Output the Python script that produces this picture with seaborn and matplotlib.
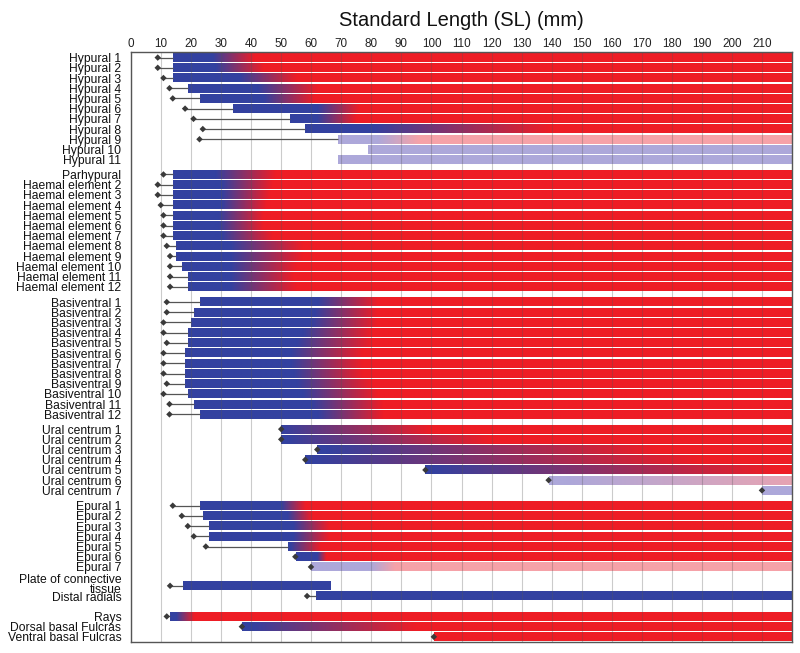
import numpy as np
import pandas as pd
import matplotlib.pyplot as plt
import matplotlib.transforms as mtransforms
import seaborn as sns
from matplotlib.colors import to_rgb

# ============================================================================
# DATA - caudal skeleton development (mm SL)
# ============================================================================

hypural_labels = ["Hypural 1", "Hypural 2", "Hypural 3", "Hypural 4", "Hypural 5",
                  "Hypural 6", "Hypural 7", "Hypural 8", "Hypural 9", "Hypural 10",
                  "Hypural 11"]
haemal_labels = ["Parhypural", "Haemal element 2", "Haemal element 3",
                 "Haemal element 4", "Haemal element 5", "Haemal element 6",
                 "Haemal element 7", "Haemal element 8", "Haemal element 9",
                 "Haemal element 10", "Haemal element 11", "Haemal element 12"]
basiventral_labels = ["Basiventral 1", "Basiventral 2", "Basiventral 3", "Basiventral 4",
                      "Basiventral 5", "Basiventral 6", "Basiventral 7", "Basiventral 8",
                      "Basiventral 9", "Basiventral 10", "Basiventral 11", "Basiventral 12"]
ural_labels = ["Ural centrum 1", "Ural centrum 2", "Ural centrum 3", "Ural centrum 4",
               "Ural centrum 5", "Ural centrum 6", "Ural centrum 7"]
epural_labels = ["Epural 1", "Epural 2", "Epural 3", "Epural 4", "Epural 5",
                 "Epural 6", "Epural 7"]
other_labels = ["Plate of connective\ntissue", "Distal radials"]
fin_labels = ["Rays", "Dorsal basal Fulcras", "Ventral basal Fulcras"]

groups = [hypural_labels, haemal_labels, basiventral_labels, ural_labels,
          epural_labels, other_labels, fin_labels]

nan = np.nan

# first record of the element (diamond marker)
first_seen = [8.9, 8.9, 10.8, 12.8, 13.9, 18.0, 20.8, 23.9, 22.8, nan, nan,
              10.8, 8.9, 8.9, 9.9, 10.8, 10.8, 10.8, 11.9, 13.0, 13.0, 13.0, 13.0,
              11.9, 11.9, 10.8, 10.8, 11.9, 10.8, 10.8, 10.8, 11.9, 10.8, 12.8, 12.8,
              50.0, 50.0, 62.0, 58.0, 98.0, 139.0, 210.0,
              13.9, 16.9, 18.9, 20.9, 24.9, 54.7, 59.9,
              13.0, 58.6,
              11.9, 36.9, 100.8]

# start of the cartilage bar
bar_start = [13.9, 13.9, 13.9, 18.9, 22.9, 34.0, 53.0, 58.0, 69.0, 79.0, 69.0,
             13.9, 13.9, 13.9, 13.9, 13.9, 13.9, 13.9, 14.9, 14.9, 16.9, 18.9, 18.9,
             22.9, 21.0, 20.0, 18.9, 18.9, 17.9, 17.9, 17.9, 17.9, 18.9, 21.0, 22.9,
             50.0, 50.0, 62.0, 58.0, 98.0, 139.0, 210.0,
             23.0, 23.9, 26.0, 26.0, 52.2, 55.0, 60.0,
             17.2, 61.7,
             13.0, 37.0, 101.0]

bar_end = [220] * 49 + [66.3, 220, 220, 220, 220]

# ossification: cartilage colour up to oss_from, fully ossified from oss_to
oss_from = [27, 28, 36, 42, 44, 62, 62, 80, 82, nan, nan,
            28, 30, 30, 30, 29, 29, 30, 33, 33, 33, 33, 33,
            62, 61, 60, 57, 55, 53, 53, 54, 55, 57, 60, 62,
            50, 52, 65, 60, 100, 145, nan,
            50, 52, 54, 54, 53, 62, 80,
            nan, nan,
            15, 40, 101]
oss_to = [41, 44, 55, 62, 61, 76, 75, 140, 96, nan, nan,
          48, 47, 46, 45, 44, 44, 47, 57, 57, 55, 54, 55,
          82, 82, 82, 80, 80, 77, 77, 77, 80, 82, 84, 84,
          100, 120, 175, 190, 215, 240, nan,
          58, 60, 66, 66, 63, 65, 88,
          nan, nan,
          21, 95, 101]

# uncertain observations drawn in pale colours
pale = [False] * 8 + [True, True, True] + [False] * 24 + \
       [False, False, False, False, False, True, True] + \
       [False] * 6 + [True] + [False] * 5

x_ticks = list(range(0, 220, 10))

# ============================================================================
# LAYOUT
# ============================================================================

group_gaps = [0.45, 0.5, 0.45, 0.5, 0.85, 1.0]
labels, ypos = [], []
y = 0.0
for gi, grp in enumerate(groups):
    for lab in grp:
        labels.append(lab)
        ypos.append(y)
        y += 1.0
    if gi < len(group_gaps):
        y += group_gaps[gi]

df = pd.DataFrame({"label": labels, "y": ypos, "first": first_seen,
                   "start": bar_start, "end": bar_end,
                   "oss_from": oss_from, "oss_to": oss_to, "pale": pale})

BLUE = np.array(to_rgb("#3341A0"))
RED = np.array(to_rgb("#EE1D25"))
PALE_BLUE = np.array(to_rgb("#ADA8DA"))
PALE_RED = np.array(to_rgb("#F6A2A8"))
BAR_H = 0.86

sns.set_theme(style="white")
plt.rcParams['font.family'] = ['Liberation Sans', 'DejaVu Sans']

fig = plt.figure(figsize=(8, 6.53), dpi=100)
ax = fig.add_axes([0.16375, 0.0169, 0.99 - 0.16375, 0.9204 - 0.0169])

# gradient bars (cartilage -> bone)
for _, r in df.iterrows():
    xs = np.linspace(r["start"], r["end"], 600)
    if np.isnan(r["oss_from"]):
        t = np.zeros_like(xs)
    elif r["oss_to"] <= r["oss_from"]:
        t = (xs >= r["oss_from"]).astype(float)
    else:
        t = np.clip((xs - r["oss_from"]) / (r["oss_to"] - r["oss_from"]), 0, 1)
    c0, c1 = (PALE_BLUE, PALE_RED) if r["pale"] else (BLUE, RED)
    img = (c0[None, :] * (1 - t[:, None]) + c1[None, :] * t[:, None])[None, :, :]
    ax.imshow(img, extent=(r["start"], r["end"], r["y"] + BAR_H / 2, r["y"] - BAR_H / 2),
              aspect="auto", interpolation="bilinear", zorder=1)

# connector from first record to bar start
seen = df.dropna(subset=["first"])
ax.hlines(seen["y"], seen["first"], seen["start"], color="#555555", lw=0.9, zorder=3)
sns.scatterplot(data=seen, x="first", y="y", marker="D", s=11, color="#3a3a3a",
                edgecolor="none", legend=False, ax=ax, zorder=4)

ax.set_xlim(0, 220)
ax.set_ylim(df["y"].max() + 0.5, -0.55)
ax.xaxis.tick_top()
ax.set_xticks(x_ticks)
ax.set_xticklabels([str(v) for v in x_ticks], fontsize=8.4, color="#222222")

# single-line labels as tick labels, the two-line one as its own text
tick_text = [lab if "\n" not in lab else "" for lab in df["label"]]
ax.set_yticks(df["y"])
ax.set_yticklabels(tick_text, fontsize=8.7, color="#111111")
trans = mtransforms.blended_transform_factory(ax.transAxes, ax.transData)
for lab, yy in zip(df["label"], df["y"]):
    if "\n" in lab:
        ax.text(-0.0147, yy - 0.05, lab, transform=trans, ha="right", va="center",
                fontsize=8.7, color="#111111", linespacing=0.78)

ax.tick_params(axis="both", length=0)
ax.tick_params(axis="x", pad=1.5)
ax.tick_params(axis="y", pad=7)
ax.set_xlabel("")
ax.set_ylabel("")

ax.set_axisbelow(False)
ax.xaxis.grid(True, color="#555555", alpha=0.3, lw=0.8)
ax.yaxis.grid(False)
for sp in ax.spines.values():
    sp.set_color("#555555")
    sp.set_linewidth(1.0)

fig.text((0.16375 + 0.99) / 2, 0.969, "Standard Length (SL) (mm)", ha="center",
         va="center", fontsize=14.5, color="#111111")

fig.savefig("out.png", dpi=100)
